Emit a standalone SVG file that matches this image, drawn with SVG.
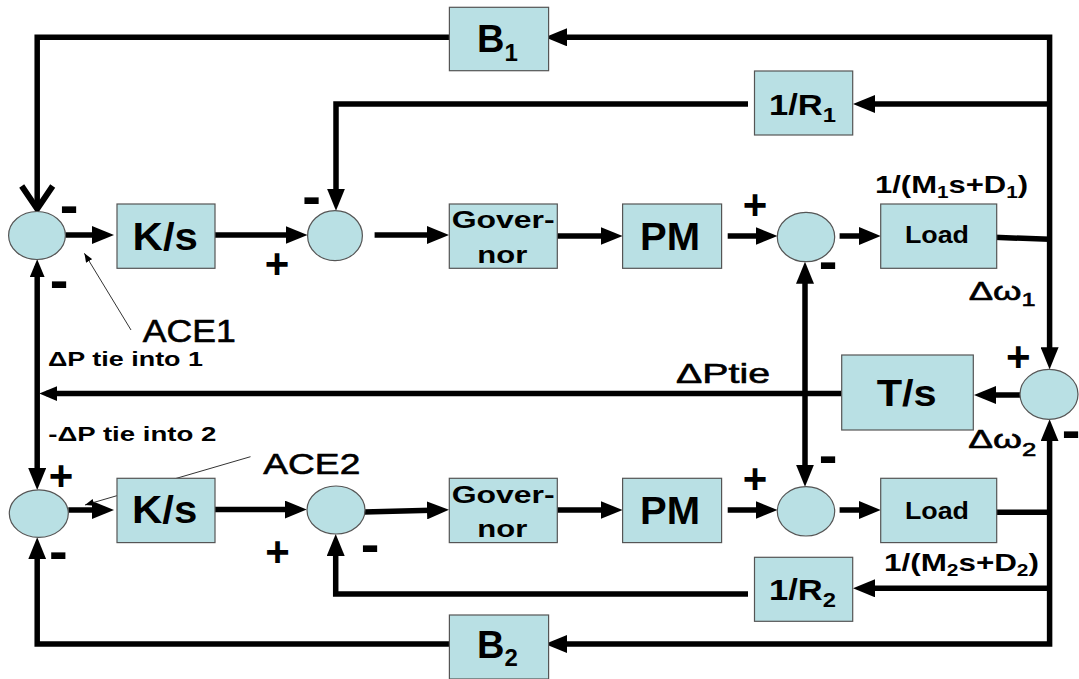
<svg xmlns="http://www.w3.org/2000/svg" width="1079" height="679" viewBox="0 0 1079 679">
<style>
.bx{fill:#b9e0e4;stroke:#555;stroke-width:1.2}
.sm{fill:#b9e0e4;stroke:#555;stroke-width:1.2}
.ln{fill:none;stroke:#000;stroke-width:5.5;stroke-linejoin:miter}
.thin{fill:none;stroke:#333;stroke-width:1}
text{font-family:"Liberation Sans",Arial,Helvetica,sans-serif;fill:#000}
.b{font-weight:bold}
.r{font-weight:normal;stroke:#000;stroke-width:0.6}
.sg{font-weight:bold;text-anchor:middle}
</style>
<defs>
<marker id="a" markerUnits="userSpaceOnUse" markerWidth="22" markerHeight="18" viewBox="0 0 22 18" refX="14" refY="9" orient="auto-start-reverse"><path d="M0,0 L22,9 L0,18 z" fill="#000"/></marker>
<marker id="as" markerUnits="userSpaceOnUse" markerWidth="18" markerHeight="15" viewBox="0 0 18 15" refX="11" refY="7.5" orient="auto-start-reverse"><path d="M0,0 L18,7.5 L0,15 z" fill="#000"/></marker>
<marker id="v" markerUnits="userSpaceOnUse" markerWidth="34" markerHeight="40" viewBox="-4 -4 34 40" refX="21" refY="15.5" orient="auto" overflow="visible"><polyline points="0,0 23,15.5 0,31" fill="none" stroke="#000" stroke-width="6"/></marker>
<marker id="t" markerUnits="userSpaceOnUse" markerWidth="9" markerHeight="7" viewBox="0 0 9 7" refX="9" refY="3.5" orient="auto"><path d="M0,0 L9,3.5 L0,7 z" fill="#000"/></marker>
</defs>
<rect width="1079" height="679" fill="#fff"/>

<g id="connectors">
<path class="ln" d="M553,37.3 H1049.6 V361.3" marker-start="url(#a)" marker-end="url(#a)"/>
<path class="ln" d="M1049.6,104 H861" marker-end="url(#a)"/>
<path class="ln" d="M748,104 H336 V202.7" marker-end="url(#a)"/>
<path class="ln" d="M449.4,37.3 H37.2 V207" marker-end="url(#v)"/>
<path class="ln" d="M65.4,235 H106" marker-end="url(#a)"/>
<path class="ln" d="M215,235 H299.5" marker-end="url(#a)"/>
<path class="ln" d="M374.6,235 H441" marker-end="url(#a)"/>
<path class="ln" d="M557,236 H614.6" marker-end="url(#a)"/>
<path class="ln" d="M727.7,236 H769.5" marker-end="url(#a)"/>
<path class="ln" d="M839.6,236 H872.7" marker-end="url(#a)"/>
<path class="ln" d="M994,237.3 L1049.6,239.3"/>
<path class="ln" d="M1020,395 H982" marker-end="url(#a)"/>
<path class="ln" d="M841.7,393.5 H46.3" marker-end="url(#as)"/>
<path class="ln" d="M37.2,266.3 V482" marker-start="url(#as)" marker-end="url(#a)"/>
<path class="ln" d="M805,269.7 V478.7" marker-start="url(#a)" marker-end="url(#a)"/>
<path class="ln" d="M553,644 H1049.6 V427.3" marker-start="url(#a)" marker-end="url(#a)"/>
<path class="ln" d="M68.3,510 H106" marker-end="url(#a)"/>
<path class="ln" d="M215,509.5 H298.7" marker-end="url(#a)"/>
<path class="ln" d="M364,512 L441,510" marker-end="url(#a)"/>
<path class="ln" d="M557,510 H614.6" marker-end="url(#a)"/>
<path class="ln" d="M727.7,510 H769.5" marker-end="url(#a)"/>
<path class="ln" d="M839.6,510 H872.7" marker-end="url(#a)"/>
<path class="ln" d="M994,512.3 H1049.6"/>
<path class="ln" d="M1049.6,588.3 H861" marker-end="url(#a)"/>
<path class="ln" d="M748,594 H335.7 V542" marker-end="url(#a)"/>
<path class="ln" d="M449.4,644 H37.2 V545.3" marker-end="url(#a)"/>
<path class="thin" d="M131,330 L84.4,253.3" marker-end="url(#t)"/>
<path class="thin" d="M250.5,456.7 L85,505" marker-end="url(#t)"/>
</g>

<g id="B1"><rect class="bx" x="449.4" y="7.3" width="99.2" height="63.4"/><text class="b" x="477" y="52.3" font-size="38">B<tspan font-size="24" dy="8.4">1</tspan></text></g>
<g id="R1"><rect class="bx" x="754.5" y="71" width="98.2" height="64"/><text class="b" x="769" y="115" font-size="29" textLength="67" lengthAdjust="spacingAndGlyphs">1/R<tspan font-size="20" dy="6.7">1</tspan></text></g>
<g id="sum1"><ellipse class="sm" cx="37" cy="235.5" rx="28.4" ry="24"/></g>
<g id="Ks1"><rect class="bx" x="117" y="204" width="98" height="64.3"/><text class="b" x="132.6" y="250" font-size="38" textLength="65.4" lengthAdjust="spacingAndGlyphs">K/s</text></g>
<g id="sum2"><ellipse class="sm" cx="335" cy="235.7" rx="27.4" ry="25"/></g>
<g id="Gov1"><rect class="bx" x="449.3" y="204" width="108" height="64.3"/><text class="b" x="451.7" y="228.3" font-size="24" textLength="103" lengthAdjust="spacingAndGlyphs">Gover-</text><text class="b" x="477.3" y="262.7" font-size="24" textLength="50" lengthAdjust="spacingAndGlyphs">nor</text></g>
<g id="PM1"><rect class="bx" x="622.6" y="204" width="99" height="64.3"/><text class="b" x="640" y="250" font-size="38" textLength="60" lengthAdjust="spacingAndGlyphs">PM</text></g>
<g id="sum3"><ellipse class="sm" cx="806" cy="237" rx="28.7" ry="24.7"/></g>
<g id="Load1"><rect class="bx" x="880.7" y="204" width="116" height="64.3"/><text class="b" x="905" y="243" font-size="23" textLength="64" lengthAdjust="spacingAndGlyphs">Load</text></g>
<g id="Ts"><rect class="bx" x="841.7" y="355" width="131.6" height="75"/><text class="b" x="876.7" y="406" font-size="37" textLength="60" lengthAdjust="spacingAndGlyphs">T/s</text></g>
<g id="sum4"><ellipse class="sm" cx="1049" cy="394.3" rx="29" ry="25"/></g>
<g id="sum6"><ellipse class="sm" cx="38.8" cy="513.6" rx="29.5" ry="23.7"/></g>
<g id="Ks2"><rect class="bx" x="117" y="478.3" width="98" height="64.3"/><text class="b" x="132" y="523" font-size="38" textLength="65.4" lengthAdjust="spacingAndGlyphs">K/s</text></g>
<g id="sum7"><ellipse class="sm" cx="336" cy="510" rx="29" ry="24"/></g>
<g id="Gov2"><rect class="bx" x="449.3" y="478.3" width="108" height="64.3"/><text class="b" x="451.7" y="502.6" font-size="24" textLength="103" lengthAdjust="spacingAndGlyphs">Gover-</text><text class="b" x="477.3" y="537" font-size="24" textLength="50" lengthAdjust="spacingAndGlyphs">nor</text></g>
<g id="PM2"><rect class="bx" x="622.6" y="478.3" width="99" height="64.3"/><text class="b" x="640" y="524.3" font-size="38" textLength="60" lengthAdjust="spacingAndGlyphs">PM</text></g>
<g id="sum5"><ellipse class="sm" cx="806" cy="511.3" rx="28.7" ry="24.7"/></g>
<g id="Load2"><rect class="bx" x="880.7" y="478.3" width="116" height="64.3"/><text class="b" x="905" y="518.5" font-size="23" textLength="64" lengthAdjust="spacingAndGlyphs">Load</text></g>
<g id="R2"><rect class="bx" x="754.5" y="557.3" width="98.2" height="64"/><text class="b" x="769" y="600" font-size="29" textLength="67" lengthAdjust="spacingAndGlyphs">1/R<tspan font-size="20" dy="6.7">2</tspan></text></g>
<g id="B2"><rect class="bx" x="449.4" y="615" width="99.2" height="64"/><text class="b" x="477" y="658" font-size="38">B<tspan font-size="24" dy="8.4">2</tspan></text></g>

<g id="labels">
<text class="b" x="875" y="193.3" font-size="24" textLength="153" lengthAdjust="spacingAndGlyphs">1/(M<tspan font-size="16" dy="5">1</tspan><tspan dy="-5">s+D</tspan><tspan font-size="16" dy="5">1</tspan><tspan dy="-5">)</tspan></text>
<text class="b" x="884" y="570.5" font-size="24" textLength="155" lengthAdjust="spacingAndGlyphs">1/(M<tspan font-size="16" dy="5">2</tspan><tspan dy="-5">s+D</tspan><tspan font-size="16" dy="5">2</tspan><tspan dy="-5">)</tspan></text>
<text class="r" x="968.7" y="300" font-size="26" textLength="67" lengthAdjust="spacingAndGlyphs">Δω<tspan font-size="18" dy="6">1</tspan></text>
<text class="r" x="968.3" y="448.3" font-size="26" textLength="68" lengthAdjust="spacingAndGlyphs">Δω<tspan font-size="18" dy="8">2</tspan></text>
<text class="r" x="676" y="383.3" font-size="28" textLength="94" lengthAdjust="spacingAndGlyphs">ΔPtie</text>
<text class="r" x="142.7" y="342.3" font-size="32" textLength="93" lengthAdjust="spacingAndGlyphs">ACE1</text>
<text class="r" x="263.3" y="474.3" font-size="30" textLength="97" lengthAdjust="spacingAndGlyphs">ACE2</text>
<text class="b" x="48" y="366" font-size="20" textLength="155" lengthAdjust="spacingAndGlyphs">ΔP tie into 1</text>
<text class="b" x="48.3" y="440.7" font-size="20" textLength="168" lengthAdjust="spacingAndGlyphs">-ΔP tie into 2</text>
<text class="sg" x="69.2" y="224" font-size="56">-</text>
<text class="sg" x="59.2" y="299.2" font-size="56">-</text>
<text class="sg" x="277" y="277.5" font-size="42">+</text>
<text class="sg" x="311.6" y="215" font-size="56">-</text>
<text class="sg" x="755" y="218.5" font-size="42">+</text>
<text class="sg" x="828" y="279.7" font-size="56">-</text>
<text class="sg" x="1018.3" y="370.5" font-size="42">+</text>
<text class="sg" x="1071" y="448.7" font-size="56">-</text>
<text class="sg" x="828" y="473.7" font-size="56">-</text>
<text class="sg" x="755" y="492.5" font-size="42">+</text>
<text class="sg" x="61" y="489.5" font-size="42">+</text>
<text class="sg" x="58.3" y="569.7" font-size="56">-</text>
<text class="sg" x="277.5" y="566.2" font-size="42">+</text>
<text class="sg" x="370" y="563" font-size="56">-</text>
</g>
</svg>
